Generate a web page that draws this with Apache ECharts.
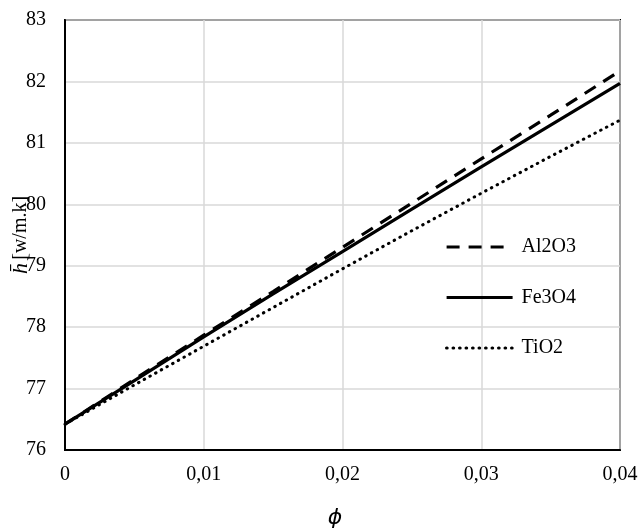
<!DOCTYPE html>
<html><head><meta charset="utf-8">
<script src="https://cdn.jsdelivr.net/npm/echarts@6/dist/echarts.min.js"></script>
<style>html,body{margin:0;padding:0;background:#fff}#c{width:640px;height:528px}</style>
</head><body><div id="c"></div>
<script>
const phi = [0, 0.005, 0.01, 0.015, 0.02, 0.025, 0.03, 0.035, 0.04];
const al2o3 = [76.42, 77.15, 77.87, 78.58, 79.30, 80.02, 80.74, 81.45, 82.17];
const fe3o4 = [76.42, 77.13, 77.84, 78.54, 79.23, 79.92, 80.61, 81.29, 81.97];
const tio2  = [76.42, 77.06, 77.69, 78.32, 78.95, 79.57, 80.18, 80.78, 81.37];
const seriesNames = ['Al2O3', 'Fe3O4', 'TiO2'];
const F = '"Liberation Serif", "Times New Roman", serif';
const pair = (ys) => phi.map((x, i) => [x, ys[i]]);
const chart = echarts.init(document.getElementById('c'));
chart.setOption({
  animation: false,
  backgroundColor: '#fff',
  grid: { left: 65, right: 20, top: 20, bottom: 78, outerBoundsMode: 'none', containLabel: false,
    show: true, borderColor: '#000', borderWidth: 2, backgroundColor: 'transparent' },
  legend: {
    orient: 'vertical', left: 440, top: 232, itemWidth: 66, itemHeight: 14, itemGap: 30.5,
    itemStyle: { opacity: 0 },
    lineStyle: { width: 3.2 },
    textStyle: { fontFamily: F, fontSize: 20, color: '#000', padding: [0, 0, 0, 4] },
    data: seriesNames
  },
  xAxis: {
    type: 'value', min: 0, max: 0.04, interval: 0.01,
    axisLine: { show: true, lineStyle: { color: '#000', width: 2 } },
    axisTick: { show: false },
    splitLine: { show: true, lineStyle: { color: '#d9d9d9', width: 1.5 } },
    axisLabel: { fontFamily: F, fontSize: 20, color: '#000', margin: 15,
      formatter: v => v === 0 ? '0' : v.toFixed(2).replace('.', ',') },
    name: 'ϕ', nameLocation: 'middle', nameGap: 57, nameMoveOverlap: false,
    nameTextStyle: { fontFamily: '"DejaVu Sans", sans-serif', fontStyle: 'italic', fontSize: 22, color: '#000', padding: [0, 15, 0, 0] }
  },
  yAxis: {
    type: 'value', min: 76, max: 83, interval: 1,
    axisLine: { show: true, lineStyle: { color: '#000', width: 2 } },
    axisTick: { show: false },
    splitLine: { show: true, lineStyle: { color: '#d9d9d9', width: 1.5 } },
    axisLabel: { fontFamily: F, fontSize: 20, color: '#000', margin: 19 },
    name: '{h|h̄} {u|[w/m.k]}', nameLocation: 'middle', nameGap: 33, nameRotate: 90, nameMoveOverlap: false,
    nameTextStyle: { color: '#000', rich: {
      h: { fontFamily: F, fontStyle: 'italic', fontSize: 22, color: '#000' },
      u: { fontFamily: F, fontSize: 20, color: '#000' }
    } }
  },
  series: [
    { name: 'Al2O3', type: 'line', data: pair(al2o3), symbol: 'none',
      lineStyle: { color: '#000', width: 3.2, type: [13, 9] }, itemStyle: { color: '#000' } },
    { name: 'Fe3O4', type: 'line', data: pair(fe3o4), symbol: 'none',
      lineStyle: { color: '#000', width: 3.2, type: 'solid' }, itemStyle: { color: '#000' } },
    { name: 'TiO2', type: 'line', data: pair(tio2), symbol: 'none',
      lineStyle: { color: '#000', width: 3, type: [0.5, 6], cap: 'round' }, itemStyle: { color: '#000' } }
  ]
});
</script></body></html>
